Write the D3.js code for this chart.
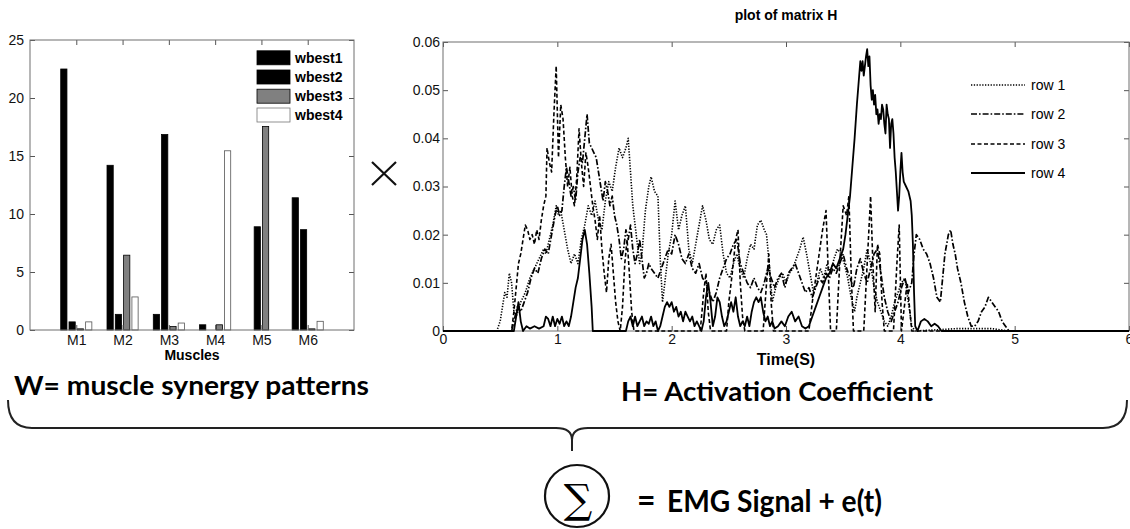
<!DOCTYPE html>
<html>
<head>
<meta charset="utf-8">
<script src="https://cdnjs.cloudflare.com/ajax/libs/d3/7.8.5/d3.min.js"></script>
<style>
  body { margin: 0; background: #fff; }
  svg { display: block; }
  .tick line { stroke: #555; }
</style>
</head>
<body>
<svg id="fig" width="1130" height="529"></svg>
<script>
// ---- W : synergy weights per muscle (bar chart) ----
const muscles = ['M1', 'M2', 'M3', 'M4', 'M5', 'M6'];
const synergies = ['wbest1', 'wbest2', 'wbest3', 'wbest4'];
const wbest1 = [22.5, 14.2, 1.35, 0.45, 0, 11.4];
const wbest2 = [0.7, 1.35, 16.85, 0, 8.9, 8.65];
const wbest3 = [0.1, 6.45, 0.3, 0.45, 17.55, 0.1];
const wbest4 = [0.7, 2.85, 0.6, 15.45, 0, 0.75];
const barTicks = [0, 5, 10, 15, 20, 25];

// ---- H : activation coefficients, [time (s), value] ----
const row1 = [[0,0],[0.47,0],[0.5,0.002],[0.52,0.005],[0.54,0.008],[0.56,0.007],[0.58,0.012],[0.6,0.010],[0.62,0.004],[0.64,0.003],
  [0.68,0.006],[0.72,0.008],[0.76,0.011],[0.8,0.013],[0.84,0.015],[0.88,0.017],[0.9,0.016],[0.93,0.019],[0.96,0.022],[0.99,0.026],
  [1.01,0.024],[1.03,0.025],[1.06,0.021],[1.09,0.017],[1.12,0.014],[1.15,0.016],[1.18,0.014],[1.21,0.019],[1.24,0.022],[1.27,0.026],
  [1.3,0.024],[1.33,0.027],[1.36,0.023],[1.39,0.021],[1.42,0.027],[1.45,0.031],[1.48,0.029],[1.51,0.034],[1.54,0.038],[1.57,0.036],
  [1.6,0.038],[1.62,0.040],[1.64,0.033],[1.66,0.026],[1.69,0.020],[1.72,0.014],[1.74,0.016],[1.77,0.025],[1.8,0.030],[1.82,0.032],
  [1.85,0.029],[1.88,0.028],[1.9,0.015],[1.92,0.006],[1.94,0.010],[1.97,0.016],[2.0,0.020],[2.03,0.027],[2.06,0.021],[2.09,0.024],
  [2.12,0.026],[2.15,0.017],[2.18,0.014],[2.21,0.018],[2.24,0.022],[2.27,0.026],[2.3,0.023],[2.33,0.019],[2.36,0.018],[2.39,0.021],
  [2.42,0.022],[2.45,0.016],[2.48,0.012],[2.51,0.011],[2.54,0.014],[2.57,0.016],[2.6,0.013],[2.63,0.011],[2.66,0.015],[2.69,0.018],
  [2.72,0.017],[2.75,0.022],[2.78,0.023],[2.81,0.021],[2.83,0.020],[2.86,0.012],[2.88,0.006],[2.91,0.009],[2.94,0.011],[2.97,0.012],
  [3.0,0.010],[3.03,0.012],[3.06,0.013],[3.09,0.015],[3.12,0.017],[3.15,0.0195],[3.18,0.016],[3.21,0.012],[3.24,0.008],[3.27,0.010],
  [3.3,0.013],[3.33,0.011],[3.36,0.014],[3.39,0.012],[3.42,0.015],[3.45,0.017],[3.48,0.016],[3.51,0.014],[3.54,0.011],[3.57,0.007],
  [3.6,0.004],[3.62,0.007],[3.65,0.010],[3.68,0.013],[3.71,0.017],[3.74,0.014],[3.77,0.009],[3.8,0.006],[3.83,0.004],[3.86,0.002],
  [3.89,0.001],[3.92,0.003],[3.95,0.006],[3.98,0.008],[4.01,0.010],[4.04,0.011],[4.07,0.006],[4.1,0.001],[4.13,0],[4.5,0.0005],
  [4.8,0.0005],[4.95,0],[6,0]];

const row2 = [[0,0],[0.6,0],[0.62,0.002],[0.65,0.005],[0.68,0.004],[0.71,0.006],[0.74,0.008],[0.77,0.011],[0.8,0.013],[0.83,0.012],
  [0.86,0.015],[0.89,0.017],[0.92,0.016],[0.95,0.020],[0.98,0.024],[1.0,0.026],[1.02,0.024],[1.04,0.025],[1.06,0.030],[1.08,0.034],
  [1.1,0.031],[1.12,0.028],[1.14,0.030],[1.16,0.027],[1.18,0.033],[1.2,0.036],[1.22,0.035],[1.24,0.040],[1.26,0.045],[1.28,0.039],
  [1.3,0.038],[1.32,0.037],[1.34,0.036],[1.36,0.033],[1.38,0.030],[1.4,0.027],[1.42,0.031],[1.44,0.029],[1.46,0.026],[1.48,0.028],
  [1.5,0.024],[1.52,0.022],[1.54,0.019],[1.56,0.015],[1.58,0.017],[1.6,0.021],[1.62,0.019],[1.64,0.022],[1.66,0.017],[1.68,0.014],
  [1.7,0.016],[1.72,0.019],[1.74,0.015],[1.76,0.011],[1.78,0.012],[1.8,0.014],[1.82,0.013],[1.85,0.012],[1.88,0.011],[1.91,0.013],
  [1.94,0.015],[1.97,0.017],[2.0,0.016],[2.03,0.020],[2.06,0.018],[2.09,0.015],[2.12,0.014],[2.15,0.016],[2.18,0.013],[2.21,0.012],
  [2.24,0.014],[2.27,0.011],[2.3,0.010],[2.33,0.008],[2.36,0.006],[2.39,0.008],[2.42,0.011],[2.45,0.013],[2.48,0.015],[2.51,0.016],
  [2.54,0.018],[2.57,0.019],[2.6,0.014],[2.63,0.012],[2.66,0.010],[2.69,0.009],[2.72,0.011],[2.75,0.009],[2.78,0.008],[2.81,0.010],
  [2.84,0.013],[2.87,0.011],[2.9,0.009],[2.93,0.011],[2.96,0.012],[2.99,0.009],[3.02,0.012],[3.05,0.013],[3.08,0.014],[3.11,0.012],
  [3.14,0.010],[3.17,0.008],[3.2,0.009],[3.23,0.007],[3.26,0.009],[3.29,0.011],[3.32,0.010],[3.35,0.012],[3.38,0.011],[3.41,0.013],
  [3.44,0.012],[3.47,0.014],[3.5,0.016],[3.53,0.013],[3.56,0.011],[3.59,0.009],[3.62,0.013],[3.65,0.015],[3.68,0.012],[3.71,0.010],
  [3.74,0.013],[3.77,0.016],[3.8,0.017],[3.83,0.012],[3.86,0.007],[3.89,0.004],[3.92,0.002],[3.95,0.004],[3.98,0.006],[4.01,0.009],
  [4.04,0.011],[4.07,0.008],[4.1,0.010],[4.12,0.016],[4.14,0.020],[4.17,0.019],[4.2,0.017],[4.23,0.016],[4.26,0.014],[4.29,0.011],
  [4.32,0.007],[4.35,0.006],[4.37,0.011],[4.39,0.016],[4.42,0.020],[4.44,0.021],[4.46,0.018],[4.48,0.016],[4.5,0.013],[4.53,0.010],
  [4.56,0.006],[4.59,0.003],[4.62,0.001],[4.65,0.001],[4.68,0.002],[4.71,0.004],[4.74,0.005],[4.77,0.007],[4.8,0.006],[4.83,0.005],
  [4.86,0.004],[4.89,0.002],[4.92,0.001],[4.95,0],[6,0]];

const row3 = [[0,0],[0.6,0],[0.62,0.004],[0.64,0.009],[0.66,0.014],[0.68,0.016],[0.7,0.019],[0.72,0.022],[0.74,0.021],[0.76,0.019],
  [0.78,0.020],[0.8,0.018],[0.82,0.021],[0.84,0.019],[0.86,0.023],[0.88,0.026],[0.9,0.028],[0.91,0.038],[0.93,0.035],[0.95,0.033],
  [0.97,0.045],[0.99,0.055],[1.01,0.036],[1.03,0.047],[1.05,0.044],[1.07,0.036],[1.09,0.030],[1.11,0.034],[1.13,0.028],[1.15,0.026],
  [1.17,0.032],[1.19,0.042],[1.21,0.035],[1.23,0.030],[1.25,0.037],[1.27,0.034],[1.29,0.030],[1.31,0.026],[1.33,0.023],[1.35,0.019],
  [1.37,0.024],[1.39,0.017],[1.41,0.012],[1.43,0.008],[1.45,0.015],[1.47,0.018],[1.49,0.012],[1.51,0.006],[1.53,0.002],[1.55,0],
  [1.57,0.005],[1.59,0.014],[1.61,0.019],[1.63,0.012],[1.65,0.004],[1.67,0],[2.25,0],[2.28,0.008],[2.3,0.012],[2.32,0.004],[2.34,0],
  [2.48,0],[2.5,0.006],[2.53,0.012],[2.56,0.019],[2.58,0.021],[2.6,0.010],[2.62,0.003],[2.64,0],[2.8,0],[2.83,0.010],[2.85,0.016],
  [2.87,0.006],[2.89,0],[3.2,0],[3.23,0.006],[3.26,0.011],[3.29,0.016],[3.32,0.021],[3.35,0.025],[3.37,0.012],[3.39,0],[3.44,0],
  [3.47,0.014],[3.5,0.026],[3.53,0.024],[3.55,0.028],[3.57,0.012],[3.59,0],[3.68,0],[3.71,0.014],[3.74,0.028],[3.76,0.014],
  [3.78,0.004],[3.8,0.018],[3.82,0.016],[3.84,0.006],[3.86,0],[3.94,0],[3.97,0.014],[3.99,0.022],[4.01,0],[4.04,0.006],[4.06,0.010],
  [4.08,0.005],[4.1,0],[6,0]];

const row4 = [[0,0],[0.62,0],[0.64,0.003],[0.66,0.006],[0.68,0.002],[0.7,0],[0.73,0.001],[0.76,0.0005],[0.8,0.001],[0.84,0.0005],
  [0.88,0.001],[0.9,0.003],[0.92,0.0025],[0.94,0.001],[0.96,0.003],[0.98,0.001],[1.0,0.0025],[1.02,0.0015],[1.04,0.003],[1.06,0.001],
  [1.08,0.002],[1.1,0.001],[1.12,0.003],[1.14,0.006],[1.16,0.009],[1.18,0.011],[1.2,0.015],[1.22,0.019],[1.24,0.021],[1.26,0.018],
  [1.28,0.012],[1.3,0.005],[1.31,0],[1.6,0],[1.62,0.002],[1.64,0.003],[1.66,0.001],[1.68,0.003],[1.7,0.001],[1.72,0.002],[1.74,0.003],
  [1.76,0.001],[1.78,0.002],[1.8,0.0015],[1.82,0.003],[1.84,0.001],[1.86,0.002],[1.88,0],[1.9,0.001],[1.92,0.003],[1.94,0.005],
  [1.96,0.006],[1.98,0.005],[2.0,0.006],[2.02,0.004],[2.04,0.005],[2.06,0.003],[2.08,0.004],[2.1,0.002],[2.12,0.004],[2.14,0.003],
  [2.16,0.002],[2.18,0.003],[2.2,0.001],[2.22,0.002],[2.24,0.001],[2.26,0],[2.28,0.002],[2.3,0.007],[2.32,0.010],[2.34,0.006],
  [2.36,0.001],[2.38,0.003],[2.4,0.007],[2.42,0.006],[2.44,0.003],[2.46,0.001],[2.48,0.002],[2.5,0.004],[2.52,0.006],[2.54,0.004],
  [2.56,0.007],[2.58,0.003],[2.6,0.001],[2.62,0.002],[2.64,0.001],[2.66,0.003],[2.68,0.001],[2.7,0.004],[2.72,0.006],[2.74,0.007],
  [2.76,0.006],[2.78,0.007],[2.8,0.004],[2.82,0.002],[2.84,0.003],[2.86,0.001],[2.88,0.002],[2.9,0.0005],[2.93,0.001],[2.96,0.002],
  [2.99,0.001],[3.02,0.003],[3.05,0.004],[3.08,0.002],[3.11,0.003],[3.14,0.001],[3.17,0.0005],[3.2,0.001],[3.23,0.003],[3.26,0.005],
  [3.29,0.007],[3.32,0.009],[3.35,0.011],[3.38,0.012],[3.41,0.014],[3.44,0.013],[3.47,0.015],[3.5,0.017],[3.52,0.020],[3.54,0.024],
  [3.56,0.028],[3.58,0.034],[3.6,0.040],[3.62,0.047],[3.64,0.053],[3.65,0.056],[3.66,0.054],[3.67,0.056],[3.68,0.053],[3.69,0.055],
  [3.7,0.057],[3.71,0.0585],[3.72,0.055],[3.73,0.057],[3.74,0.051],[3.75,0.048],[3.76,0.050],[3.77,0.047],[3.78,0.049],[3.79,0.045],
  [3.8,0.046],[3.81,0.043],[3.82,0.045],[3.83,0.044],[3.84,0.047],[3.85,0.046],[3.86,0.043],[3.87,0.041],[3.88,0.047],[3.89,0.045],
  [3.9,0.044],[3.91,0.038],[3.92,0.043],[3.93,0.044],[3.94,0.041],[3.95,0.036],[3.96,0.033],[3.97,0.029],[3.98,0.025],[3.99,0.028],
  [4.0,0.033],[4.01,0.037],[4.02,0.033],[4.03,0.031],[4.05,0.030],[4.07,0.029],[4.09,0.027],[4.1,0.024],[4.11,0.018],[4.12,0.008],
  [4.13,0.001],[4.15,0],[4.18,0.002],[4.21,0.0025],[4.24,0.002],[4.27,0.001],[4.3,0.0015],[4.33,0.001],[4.36,0],[6,0]];

const rowNames = ['row 1', 'row 2', 'row 3', 'row 4'];
const hTicksX = [0, 1, 2, 3, 4, 5, 6];
const hTicksY = [0, 0.01, 0.02, 0.03, 0.04, 0.05, 0.06];

const svg = d3.select('#fig');
const FONT = '"Liberation Sans", Arial, sans-serif';
const frameColor = '#6e6e6e';

// ======== left: bar chart of W ========
const bx = d3.scaleLinear().domain([0, 7]).range([30, 354]);
const by = d3.scaleLinear().domain([0, 25]).range([330, 40]);
const inner = d3.scaleBand().domain(synergies).range([-16.6, 16.6]).paddingInner(0.25).paddingOuter(0.125);
const barFill = { wbest1: '#000', wbest2: '#000', wbest3: '#808080', wbest4: '#fff' };
const barVals = { wbest1, wbest2, wbest3, wbest4 };

const left = svg.append('g');

synergies.forEach((s) => {
  left.selectAll('rect.' + s)
    .data(barVals[s])
    .enter()
    .append('rect')
    .attr('class', s)
    .attr('x', (d, i) => bx(i + 1) + inner(s))
    .attr('y', (d) => by(d))
    .attr('width', inner.bandwidth())
    .attr('height', (d) => by(0) - by(d))
    .attr('fill', barFill[s])
    .attr('stroke', s === 'wbest4' ? '#555' : '#000')
    .attr('stroke-width', 0.8);
});

// axes (ticks inside, like matlab)
left.append('g').attr('transform', 'translate(30,0)')
  .call(d3.axisLeft(by).tickValues(barTicks).tickSize(-5).tickPadding(6))
  .call((g) => g.select('.domain').remove());
left.append('g').attr('transform', 'translate(354,0)')
  .call(d3.axisRight(by).tickValues(barTicks).tickSize(-5).tickFormat(''))
  .call((g) => g.select('.domain').remove());
left.append('g').attr('transform', 'translate(0,330)')
  .call(d3.axisBottom(bx).tickValues([1, 2, 3, 4, 5, 6]).tickSize(-5).tickPadding(5).tickFormat((d) => muscles[d - 1]))
  .call((g) => g.select('.domain').remove());
left.append('g').attr('transform', 'translate(0,40)')
  .call(d3.axisTop(bx).tickValues([1, 2, 3, 4, 5, 6]).tickSize(-5).tickFormat(''))
  .call((g) => g.select('.domain').remove());
left.selectAll('.tick text').attr('font-family', FONT).attr('font-size', 14).attr('fill', '#111');

left.append('rect').attr('x', 30).attr('y', 40).attr('width', 324).attr('height', 290)
  .attr('fill', 'none').attr('stroke', frameColor).attr('stroke-width', 1);

left.append('text').attr('x', bx(3.5)).attr('y', 360).attr('text-anchor', 'middle')
  .attr('font-family', FONT).attr('font-size', 14).attr('font-weight', 'bold').text('Muscles');

// legend
const legY = [57.8, 77, 96.2, 115];
synergies.forEach((s, i) => {
  left.append('rect').attr('x', 257).attr('y', legY[i] - 7).attr('width', 33).attr('height', 14)
    .attr('fill', barFill[s]).attr('stroke', s === 'wbest4' ? '#777' : '#000').attr('stroke-width', 0.8);
  left.append('text').attr('x', 295).attr('y', legY[i] + 5)
    .attr('font-family', FONT).attr('font-size', 14).attr('font-weight', 'bold').text(s);
});

// multiplication sign
svg.append('path')
  .attr('d', 'M372,162 L396,185 M396,162 L372,185')
  .attr('stroke', '#111').attr('stroke-width', 2.2).attr('fill', 'none');

// ======== right: line plot of H ========
const hx = d3.scaleLinear().domain([0, 6]).range([443, 1129]);
const hy = d3.scaleLinear().domain([0, 0.06]).range([331, 42]);
const right = svg.append('g');

right.append('g').attr('transform', 'translate(443,0)')
  .call(d3.axisLeft(hy).tickValues(hTicksY).tickSize(-5).tickPadding(3).tickFormat((d) => d === 0 ? '0' : d3.format('.2f')(d)))
  .call((g) => g.select('.domain').remove());
right.append('g').attr('transform', 'translate(1129,0)')
  .call(d3.axisRight(hy).tickValues(hTicksY).tickSize(-5).tickFormat(''))
  .call((g) => g.select('.domain').remove());
right.append('g').attr('transform', 'translate(0,331)')
  .call(d3.axisBottom(hx).tickValues(hTicksX).tickSize(-5).tickPadding(3).tickFormat(d3.format('d')))
  .call((g) => g.select('.domain').remove());
right.append('g').attr('transform', 'translate(0,42)')
  .call(d3.axisTop(hx).tickValues(hTicksX).tickSize(-5).tickFormat(''))
  .call((g) => g.select('.domain').remove());
right.selectAll('.tick text').attr('font-family', FONT).attr('font-size', 14).attr('fill', '#111');

right.append('rect').attr('x', 443).attr('y', 42).attr('width', 686).attr('height', 289)
  .attr('fill', 'none').attr('stroke', frameColor).attr('stroke-width', 1);

const rows = [row1, row2, row3, row4];
const dashes = ['1.3,1.5', '6,2,1.6,2', '4,2.5', null];
const widths = [1.6, 1.7, 1.6, 1.8];

const line = d3.line().x((d) => hx(d[0])).y((d) => hy(d[1]));

rows.forEach((r, i) => {
  right.append('path').datum(r)
    .attr('d', line)
    .attr('fill', 'none')
    .attr('stroke', '#000')
    .attr('stroke-width', widths[i])
    .attr('stroke-linejoin', 'round')
    .attr('stroke-dasharray', dashes[i]);
});

right.append('text').attr('x', 786).attr('y', 20).attr('text-anchor', 'middle')
  .attr('font-family', FONT).attr('font-size', 14).attr('font-weight', 'bold').text('plot of matrix H');
right.append('text').attr('x', 786).attr('y', 365).attr('text-anchor', 'middle')
  .attr('font-family', FONT).attr('font-size', 16).attr('font-weight', 'bold').text('Time(S)');

// legend
const hLegY = [85, 114, 144, 173];
rowNames.forEach((n, i) => {
  right.append('line').attr('x1', 971).attr('x2', 1025).attr('y1', hLegY[i]).attr('y2', hLegY[i])
    .attr('stroke', '#000').attr('stroke-width', widths[i]).attr('stroke-dasharray', dashes[i]);
  right.append('text').attr('x', 1031).attr('y', hLegY[i] + 5)
    .attr('font-family', FONT).attr('font-size', 14).text(n);
});

// ======== bottom annotation ========
const BFONT = 'Lato, "Open Sans", sans-serif';
svg.append('text').attr('x', 14).attr('y', 395).attr('font-family', BFONT).attr('font-weight', 700)
  .attr('font-size', 26).attr('textLength', 355).attr('lengthAdjust', 'spacingAndGlyphs')
  .text('W= muscle synergy patterns');
svg.append('text').attr('x', 621).attr('y', 401).attr('font-family', BFONT).attr('font-weight', 700)
  .attr('font-size', 26).attr('textLength', 312).attr('lengthAdjust', 'spacingAndGlyphs')
  .text('H= Activation Coefficient');

// curly brace
const brace = d3.path();
brace.moveTo(8, 400);
brace.quadraticCurveTo(8, 428, 32, 428);
brace.lineTo(556, 428);
brace.quadraticCurveTo(572, 428, 572, 440);
brace.lineTo(572, 451);
brace.moveTo(572, 440);
brace.quadraticCurveTo(572, 428, 588, 428);
brace.lineTo(1103, 428);
brace.quadraticCurveTo(1127, 428, 1127, 400);
svg.append('path').attr('d', brace.toString()).attr('fill', 'none').attr('stroke', '#222').attr('stroke-width', 2);

// sigma in a circle
svg.append('ellipse').attr('cx', 577).attr('cy', 496).attr('rx', 32).attr('ry', 31)
  .attr('fill', 'none').attr('stroke', '#111').attr('stroke-width', 2.2);
svg.append('text').attr('x', 578).attr('y', 513).attr('text-anchor', 'middle')
  .attr('font-family', '"DejaVu Serif", serif').attr('font-size', 40).text('\u2211');

svg.append('text').attr('x', 637).attr('y', 512).attr('font-family', BFONT).attr('font-weight', 700)
  .attr('font-size', 32).text('=');
svg.append('text').attr('x', 667).attr('y', 512).attr('font-family', BFONT).attr('font-weight', 700)
  .attr('font-size', 31).attr('textLength', 215).attr('lengthAdjust', 'spacingAndGlyphs')
  .text('EMG Signal + e(t)');
</script>
</body>
</html>
